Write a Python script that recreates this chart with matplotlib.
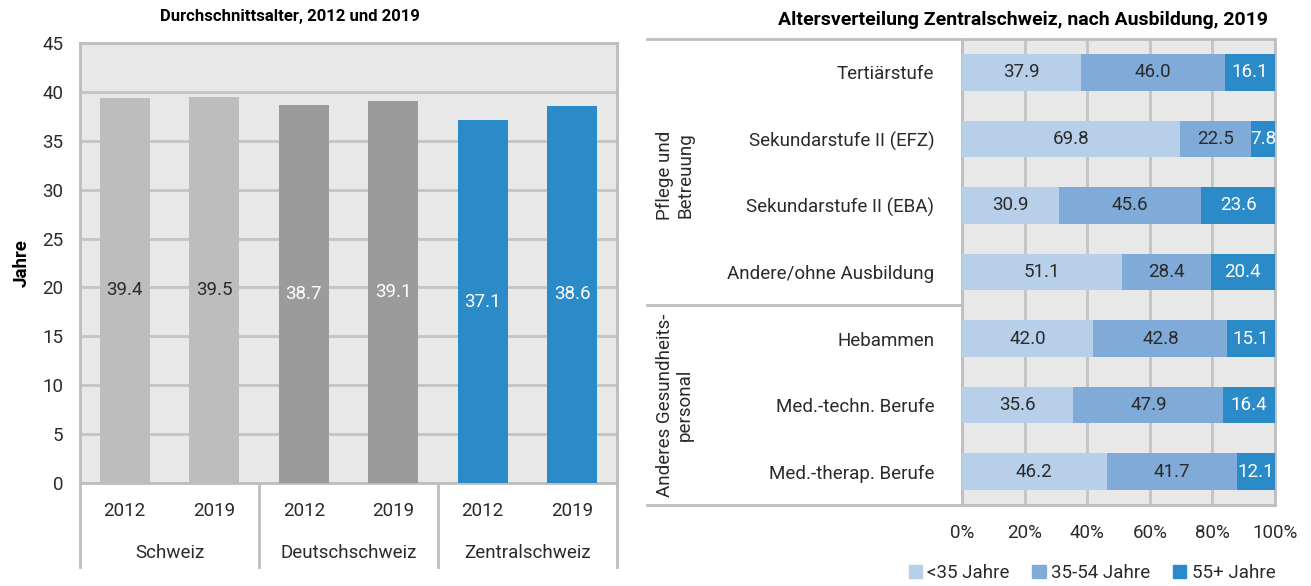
import numpy as np
import matplotlib.pyplot as plt
from matplotlib.patches import Patch
from matplotlib.transforms import blended_transform_factory

plt.rcParams['font.family'] = ['Roboto', 'DejaVu Sans']

# left chart data
years = ['2012', '2019', '2012', '2019', '2012', '2019']
regions = ['Schweiz', 'Deutschschweiz', 'Zentralschweiz']
avg_age = [39.4, 39.5, 38.7, 39.1, 37.1, 38.6]

# right chart data
categories = ['Tertiärstufe', 'Sekundarstufe II (EFZ)', 'Sekundarstufe II (EBA)',
              'Andere/ohne Ausbildung', 'Hebammen', 'Med.-techn. Berufe',
              'Med.-therap. Berufe']
groups = ['Pflege und\nBetreuung', 'Anderes Gesundheits-\npersonal']
under35 = [37.9, 69.8, 30.9, 51.1, 42.0, 35.6, 46.2]
mid35_54 = [46.0, 22.5, 45.6, 28.4, 42.8, 47.9, 41.7]
over55 = [16.1, 7.8, 23.6, 20.4, 15.1, 16.4, 12.1]
age_labels = ['<35 Jahre', '35-54 Jahre', '55+ Jahre']

bg = '#E8E8E8'
grid_c = '#C4C4C4'
frame_c = '#BDBDBD'
txt = '#2A2A2A'
bar_cols = ['#BDBDBD', '#BDBDBD', '#9B9B9B', '#9B9B9B', '#2B8AC8', '#2B8AC8']
lab_cols = [txt, txt, 'white', 'white', 'white', 'white']
seg_cols = ['#B8CFEA', '#80ABD8', '#2B8AC8']
seg_txt = [txt, txt, 'white']
fs = 13.5

fig = plt.figure(figsize=(13.11, 5.86), dpi=100)

# ---------------- left chart
ax = fig.add_axes([80/1311, 103/586, 537/1311, 440/586])
ax.set_facecolor(bg)
x = np.arange(len(avg_age))
ax.bar(x, avg_age, width=0.56, color=bar_cols, zorder=3)
for i, v in enumerate(avg_age):
    ax.text(i, v/2, f'{v:.1f}', ha='center', va='center', fontsize=fs,
            color=lab_cols[i], zorder=4)
ax.set_xlim(-0.5, 5.5)
ax.set_ylim(0, 45)
ax.set_yticks(np.arange(0, 46, 5))
ax.yaxis.grid(True, color=grid_c, linewidth=2, zorder=0)
ax.tick_params(axis='y', length=0, labelsize=fs, colors=txt, pad=12)
ax.set_xticks([])
for s in ax.spines.values():
    s.set_color(frame_c)
    s.set_linewidth(2)
ax.set_ylabel('Jahre', fontsize=fs, fontweight='bold', color='black', labelpad=8)
tr = blended_transform_factory(ax.transData, ax.transAxes)
for i, yr in enumerate(years):
    ax.text(i, -0.064, yr, transform=tr, ha='center', va='center', fontsize=fs,
            color=txt)
for j, r in enumerate(regions):
    ax.text(2*j + 0.5, -0.159, r, transform=tr, ha='center', va='center', fontsize=fs,
            color=txt)
for xs in [-0.5, 1.5, 3.5, 5.5]:
    ax.plot([xs, xs], [0, -0.19], transform=tr, color=frame_c, lw=2, clip_on=False)
fig.text(290/1311, 1 - 17/586, 'Durchschnittsalter, 2012 und 2019', ha='center',
         va='center', fontsize=12, fontweight='bold', color='black')

# ---------------- right chart
ax2 = fig.add_axes([962/1311, 81/586, 313/1311, 466/586])
ax2.set_facecolor(bg)
y = np.arange(len(categories))
left = np.zeros(len(categories))
for vals, c, tc in zip([under35, mid35_54, over55], seg_cols, seg_txt):
    vals = np.array(vals)
    ax2.barh(y, vals, left=left, height=0.55, color=c, zorder=3)
    for yi, (l, v) in enumerate(zip(left, vals)):
        ax2.text(l + v/2, yi, f'{v:.1f}', ha='center', va='center', fontsize=fs,
                 color=tc, zorder=4)
    left = left + vals
ax2.set_xlim(0, 100)
ax2.set_ylim(6.5, -0.5)
ax2.set_xticks(np.arange(0, 101, 20))
ax2.set_xticklabels([f'{t}%' for t in range(0, 101, 20)])
ax2.xaxis.grid(True, color=grid_c, linewidth=2, zorder=0)
ax2.set_yticks(y)
ax2.set_yticklabels(categories)
ax2.tick_params(axis='both', length=0, labelsize=fs, colors=txt)
ax2.tick_params(axis='x', pad=14)
ax2.tick_params(axis='y', pad=20)
for s in ax2.spines.values():
    s.set_color(frame_c)
    s.set_linewidth(2)
tr2 = blended_transform_factory(fig.transFigure, ax2.transData)
for yl in [-0.5, 3.5, 6.5]:
    ax2.plot([647/1311, 962/1311], [yl, yl], transform=tr2, color=frame_c, lw=2,
             clip_on=False)
ax2.text(675/1311, 1.55, groups[0], transform=tr2, rotation=90, ha='center',
         va='center', fontsize=fs, color=txt, linespacing=1.15,
         multialignment='center')
ax2.text(675/1311, 5.0, groups[1], transform=tr2, rotation=90, ha='center',
         va='center', fontsize=fs, color=txt, linespacing=1.15,
         multialignment='center')
fig.text(1268/1311, 1 - 20/586, 'Altersverteilung Zentralschweiz, nach Ausbildung, 2019',
         ha='right', va='center', fontsize=14, fontweight='bold', color='black')

handles = [Patch(color=c) for c in seg_cols]
leg = fig.legend(handles, age_labels, loc='center', bbox_to_anchor=(1092/1311, 1 - 573/586),
                 ncol=3, frameon=False, fontsize=fs, handlelength=0.7, handleheight=0.7,
                 handletextpad=0.3, columnspacing=1.2)
for t in leg.get_texts():
    t.set_color(txt)

fig.savefig('out.png', dpi=100)
